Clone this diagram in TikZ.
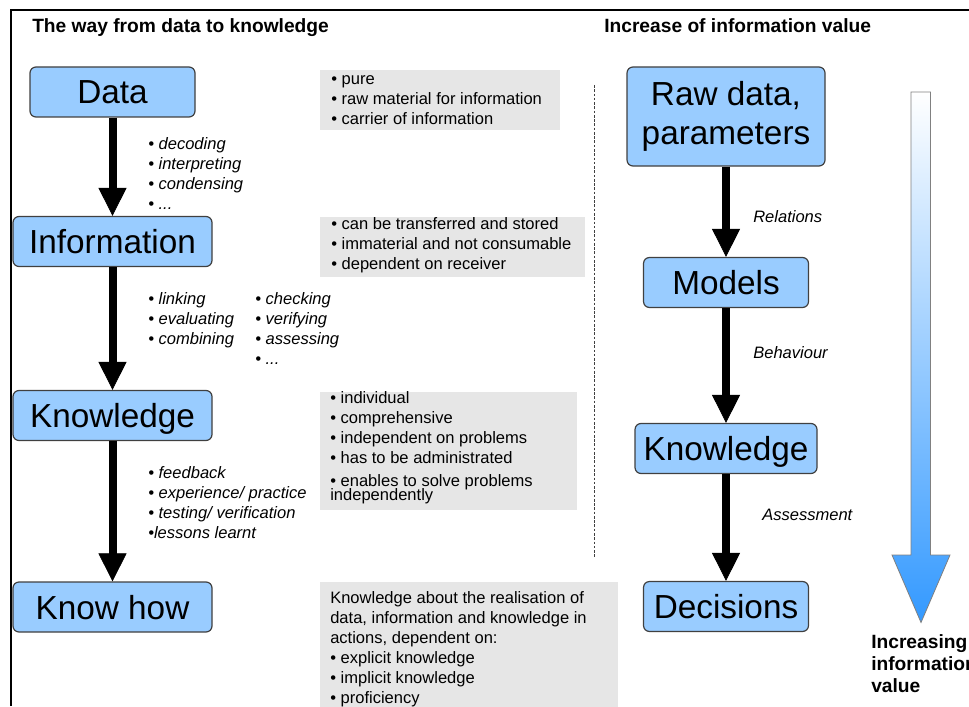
\documentclass[tikz,border=0pt]{standalone}
\usepackage{fontspec}
\setmainfont{Liberation Sans}
\usetikzlibrary{arrows.meta}

\definecolor{stageblue}{RGB}{153,204,255}
\definecolor{stageedge}{RGB}{64,64,64}
\definecolor{notegray}{RGB}{230,230,230}
\definecolor{valueblue}{RGB}{51,153,255}

\begin{document}
\begin{tikzpicture}[x=0.75pt,y=-0.75pt,
    stage/.style={rectangle,rounded corners=4.5pt,draw=stageedge,line width=0.9pt,
      fill=stageblue,inner sep=0pt,minimum height=37.5pt,
      text height=18pt,text depth=0pt,font=\fontsize{25}{29.25}\selectfont},
    flow/.style={line width=6pt,-{Triangle[width=21pt,length=21pt,line width=0.5pt]}},
    notetext/.style={anchor=north west,inner sep=0pt,align=left,
      font=\fontsize{12.4}{15}\selectfont},
    hint/.style={notetext,font=\fontsize{12.4}{15}\selectfont\itshape},
    tag/.style={anchor=west,inner sep=0pt,font=\fontsize{12.4}{15}\selectfont\itshape},
    heading/.style={anchor=base west,inner sep=0pt,font=\fontsize{14.4}{16.5}\selectfont\bfseries}]
            \useasboundingbox (0,0) rectangle (969,706);
            \clip (0,0) rectangle (969,706);
            % frame and headings
            \draw[line width=1.5pt] (11,706) -- (11,10) -- (969,10);
            \node[heading] (wayhead) at (32,33) {The way from data to knowledge};
            \node[heading] (valuehead) at (604,33) {Increase of information value};
            % left chain
            \node[stage,minimum width=123.75pt] (data) at (112.5,92) {Data};
            \node[stage,minimum width=149.25pt] (info) at (112.5,241.5) {Information};
            \node[stage,minimum width=149.25pt] (know) at (112.5,415.5) {Knowledge};
            \node[stage,minimum width=149.25pt] (knowhow) at (112.5,607) {Know how};
            \draw[flow] (data) -- (info);
            \draw[flow] (info) -- (know);
            \draw[flow] (know) -- (knowhow);
            \node[hint] (decode) at (148,135)
             {\strut• decoding\\• interpreting\\• condensing\\• ...};
            \node[hint] (link) at (148,290)
             {\strut• linking\\• evaluating\\• combining};
            \node[hint] (check) at (255,290)
             {\strut• checking\\• verifying\\• assessing\\• ...};
            \node[hint] (feed) at (148,464)
             {\strut• feedback\\• experience/ practice\\• testing/ verification\\•lessons learnt};
            % grey notes
            \fill[notegray] (320,70) rectangle (560,130.5);
            \node[notetext] (pure) at (331,70)
             {\strut• pure\\• raw material for information\\• carrier of information};
            \fill[notegray] (320,216.5) rectangle (585,276.5);
            \node[notetext] (stored) at (331,215)
             {\strut• can be transferred and stored\\• immaterial and not consumable\\• dependent on receiver};
            \fill[notegray] (320,391.5) rectangle (577,509.5);
            \node[notetext] (indiv) at (330,389)
             {\strut• individual\\• comprehensive\\• independent on problems\\
              • has to be administrated\\[2.75pt]• enables to solve problems\\[-4.5pt]independently};
            \fill[notegray] (320,581.5) rectangle (618,720);
            \node[notetext] (realise) at (330,589)
             {\strut Knowledge about the realisation of\\data, information and knowledge in\\actions, dependent on:\\
              • explicit knowledge\\• implicit knowledge\\• proficiency};
            \draw[stageedge,line width=0.6pt,dash pattern=on 2pt off 1.2pt] (594,85) -- (594,557);
            % right chain
            \node[stage,minimum width=148.5pt,minimum height=74.25pt,align=center,
             text height=,text depth=] (raw) at (726,116.5) {Raw data,\\parameters};
            \node[stage,minimum width=123.75pt] (models) at (726,282.5) {Models};
            \node[stage,minimum width=136.5pt] (knowr) at (726,448.5) {Knowledge};
            \node[stage,minimum width=123.75pt] (decide) at (726,606.5) {Decisions};
            \draw[flow] (raw) -- (models);
            \draw[flow] (models) -- (knowr);
            \draw[flow] (knowr) -- (decide);
            \node[tag] (rel) at (753,216.5) {Relations};
            \node[tag] (behave) at (753,353) {Behaviour};
            \node[tag] (assess) at (762,515) {Assessment};
            % value arrow
            \draw[draw=gray,line width=0.6pt,top color=white,middle color=valueblue!38!white,
             bottom color=valueblue]
             (911,92) -- (930.5,92) -- (930.5,555) -- (950,555) -- (921,622.5)
             -- (892,555) -- (911,555) -- cycle;
            \node[notetext,font=\fontsize{14.4}{16.5}\selectfont\bfseries] (increase) at (871,634)
             {Increasing\\information\\value};
\end{tikzpicture}
\end{document}
